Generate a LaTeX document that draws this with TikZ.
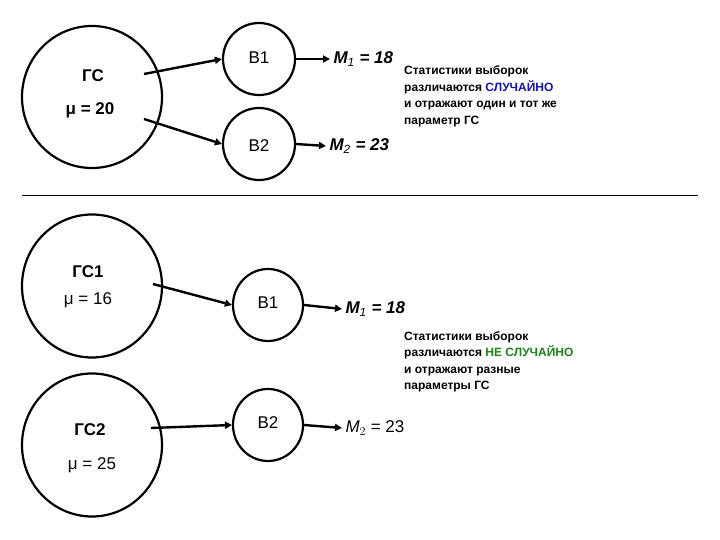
\documentclass[tikz,border=0pt]{standalone}
\usepackage{fontspec}
\setmainfont{Liberation Sans}
\usetikzlibrary{arrows.meta,shapes.geometric}
\definecolor{myblue}{RGB}{20,20,170}
\definecolor{mygreen}{RGB}{30,130,30}
\begin{document}
\begin{tikzpicture}[x=1pt,y=-1pt,
  circ/.style={draw,line width=2.2pt,ellipse,inner sep=0pt},
  arr/.style={line width=2.4pt,-{Triangle[length=7pt,width=7pt]}},
  lbl/.style={font=\fontsize{17}{19}\selectfont},
  blbl/.style={font=\bfseries\fontsize{17}{19}\selectfont},
  mlbl/.style={anchor=west,font=\bfseries\itshape\fontsize{17}{19}\selectfont},
  txt/.style={font=\bfseries\fontsize{12}{16.5}\selectfont,align=left,anchor=north west,inner sep=0pt}]
\useasboundingbox (0,0) rectangle (720,540);
% top
\node[circ,minimum width=140pt,minimum height=142pt] (gs) at (92,97) {};
\node[blbl] (gst) at (93,76) {ГС};
\node[blbl] (mu) at (90,110) {μ = 20};
\node[circ,minimum width=72pt,minimum height=72pt] (b1) at (259,59) {};
\node[lbl] at (259,58) {В1};
\node[circ,minimum width=72pt,minimum height=72pt] (b2) at (259,144) {};
\node[lbl] at (259,146) {В2};
\coordinate (s1) at (144,74);
\coordinate (s2) at (144,119);
\draw[arr] (s1) -- (b1.west);
\draw[arr] (s2) -- (b2.west);
\node[mlbl] (m1) at (330,59) {M$_{\mathit 1}$ = 18};
\node[mlbl] (m2) at (326,146) {M$_{\mathit 2}$ = 23};
\draw[arr] (b1.east) -- (m1.west);
\draw[arr] (b2.east) -- (m2.west);
\node[txt] (t1) at (404,66) {Статистики выборок\\различаются \textcolor{myblue}{СЛУЧАЙНО}\\и отражают один и тот же\\параметр ГС};
\coordinate (l1) at (22,196);
\coordinate (l2) at (698,196);
\draw[line width=1pt] (l1) -- (l2);
% bottom
\node[circ,minimum width=140pt,minimum height=143pt] (g1) at (92,286) {};
\node[blbl] at (88,272) {ГС1};
\node[lbl] at (88,300) {μ = 16};
\node[circ,minimum width=140pt,minimum height=143pt] (g2) at (92,445) {};
\node[blbl] at (90,430) {ГС2};
\node[lbl] at (92,465) {μ = 25};
\node[circ,minimum width=70pt,minimum height=72pt] (c1) at (268,305) {};
\node[lbl] at (268,303) {В1};
\node[circ,minimum width=70pt,minimum height=72pt] (c2) at (268,425) {};
\node[lbl] at (268,423) {В2};
\coordinate (u1) at (153,284);
\coordinate (u2) at (151,428);
\draw[arr] (u1) -- (c1.west);
\draw[arr] (u2) -- (c2.west);
\node[mlbl] (n1) at (342,309) {M$_{\mathit 1}$ = 18};
\node[lbl,anchor=west] (n2) at (342,428) {\textit{M}$_{2}$ = 23};
\draw[arr] (c1.east) -- (n1.west);
\draw[arr] (c2.east) -- (n2.west);
\node[txt] (t2) at (404,331) {Статистики выборок\\различаются \textcolor{mygreen}{НЕ СЛУЧАЙНО}\\и отражают разные\\параметры ГС};
\end{tikzpicture}
\end{document}
